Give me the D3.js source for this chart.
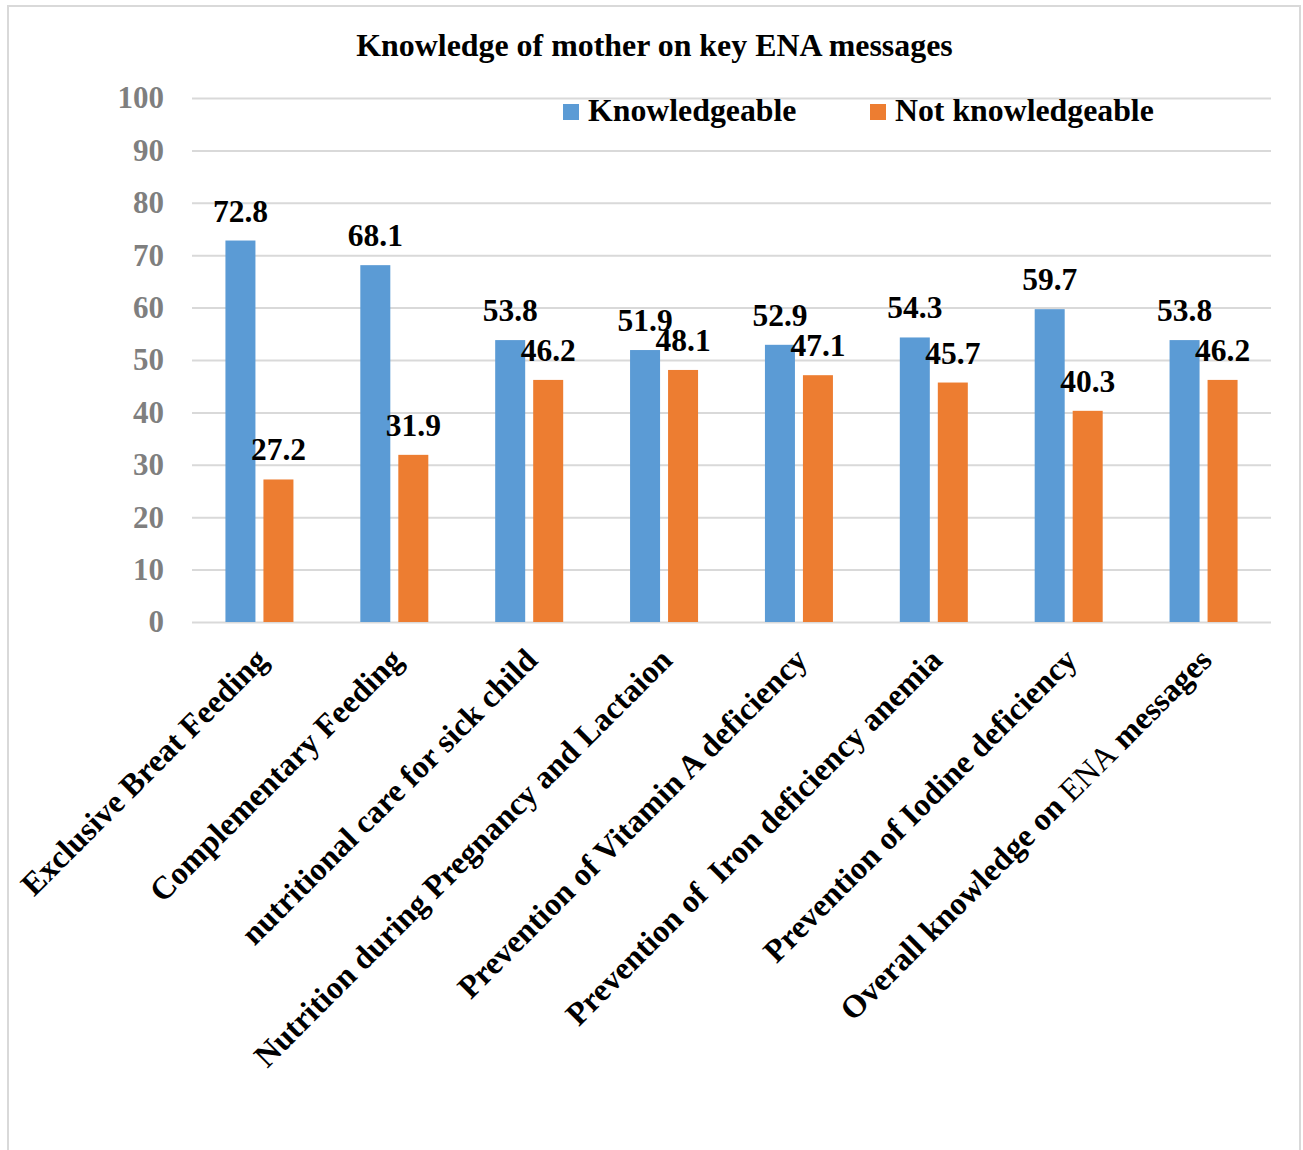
<!DOCTYPE html>
<html>
<head>
<meta charset="utf-8">
<script src="https://cdn.jsdelivr.net/npm/d3@7"></script>
<style>
  html, body { margin: 0; padding: 0; background: #fff; }
  svg { display: block; }
  text { font-family: "Liberation Serif", "Times New Roman", serif; font-weight: bold; }
</style>
</head>
<body>
<script>
const categories = [
  "Exclusive Breat Feeding",
  "Complementary Feeding",
  "nutritional care for sick child",
  "Nutrition during Pregnancy and Lactaion",
  "Prevention of Vitamin A deficiency",
  "Prevention of  Iron deficiency anemia",
  "Prevention of Iodine deficiency",
  "Overall knowledge on ENA messages"
];
const seriesNames = ["Knowledgeable", "Not knowledgeable"];
const knowledgeable = [72.8, 68.1, 53.8, 51.9, 52.9, 54.3, 59.7, 53.8];
const notKnowledgeable = [27.2, 31.9, 46.2, 48.1, 47.1, 45.7, 40.3, 46.2];
const yTicks = [0, 10, 20, 30, 40, 50, 60, 70, 80, 90, 100];
const colors = ["#5b9bd5", "#ed7d31"];
const chartTitle = "Knowledge of mother on key ENA messages";

(function () {
const W = 1303, H = 1150;
const svg = d3.select("body").append("svg").attr("width", W).attr("height", H);

// outer border
svg.append("rect").attr("x", 8).attr("y", 6).attr("width", 1292).attr("height", 1160)
  .attr("fill", "none").attr("stroke", "#d9d9d9").attr("stroke-width", 2);

const pLeft = 192, pRight = 1271, pTop = 98, pBottom = 622;
const x = d3.scaleBand().domain(categories).range([pLeft, pRight]).paddingInner(0).paddingOuter(0);
const y = d3.scaleLinear().domain([0, 100]).range([pBottom, pTop]);
const barW = 30, gap = 8;
const x1 = d3.scaleOrdinal().domain(seriesNames).range([-(gap / 2 + barW), gap / 2]);

// title
svg.append("text").attr("x", 654.5).attr("y", 56).attr("text-anchor", "middle")
  .attr("font-size", 31.9).attr("fill", "#000").text(chartTitle);

// gridlines + y tick labels
const yAxis = d3.axisLeft(y).tickValues(yTicks).tickSize(-(pRight - pLeft)).tickPadding(28).tickFormat(d3.format("d"));
const gAxis = svg.append("g").attr("transform", `translate(${pLeft},0)`).call(yAxis);
gAxis.select(".domain").remove();
gAxis.selectAll(".tick line").attr("stroke", "#d9d9d9").attr("stroke-width", 2);
gAxis.selectAll(".tick text").attr("font-size", 31).attr("fill", "#7f7f7f")
  .attr("font-family", '"Liberation Serif", serif').attr("font-weight", "bold").attr("dy", "0.32em");

// data rows
const rows = categories.map((c, i) => ({ cat: c, vals: [
  { s: seriesNames[0], v: knowledgeable[i] },
  { s: seriesNames[1], v: notKnowledgeable[i] }
]}));

const groups = svg.append("g").selectAll("g").data(rows).join("g")
  .attr("transform", d => `translate(${x(d.cat) + x.bandwidth() / 2},0)`);

groups.selectAll("rect").data(d => d.vals).join("rect")
  .attr("x", d => x1(d.s)).attr("width", barW)
  .attr("y", d => y(d.v)).attr("height", d => y(0) - y(d.v))
  .attr("fill", (d, i) => colors[i]);

groups.selectAll("text.val").data(d => d.vals).join("text").attr("class", "val")
  .attr("x", d => x1(d.s) + barW / 2).attr("y", d => y(d.v) - 19)
  .attr("text-anchor", "middle").attr("font-size", 31.5).attr("fill", "#000")
  .text(d => d3.format(".1f")(d.v));

// category labels
const catG = svg.append("g");
categories.forEach((c) => {
  const cx = x(c) + x.bandwidth() / 2;
  const t = catG.append("text")
    .attr("transform", `translate(${cx + 2},654) rotate(-45)`)
    .attr("text-anchor", "end").attr("dy", "0.35em")
    .attr("font-size", 32.3).attr("fill", "#000")
    .style("white-space", "pre");
  const parts = c.split("ENA");
  if (parts.length > 1) {
    t.append("tspan").text(parts[0]);
    t.append("tspan").attr("font-weight", "normal").text("ENA");
    t.append("tspan").text(parts[1]);
  } else {
    t.text(c);
  }
});

// legend
const legendItems = [
  { name: seriesNames[0], color: colors[0], sx: 563, tx: 588 },
  { name: seriesNames[1], color: colors[1], sx: 870, tx: 895 }
];
const lg = svg.append("g");
legendItems.forEach(d => {
  lg.append("rect").attr("x", d.sx).attr("y", 104).attr("width", 16).attr("height", 16).attr("fill", d.color);
  lg.append("text").attr("x", d.tx).attr("y", 121).attr("font-size", 31.8).attr("fill", "#000").text(d.name);
});
})();
</script>
</body>
</html>
